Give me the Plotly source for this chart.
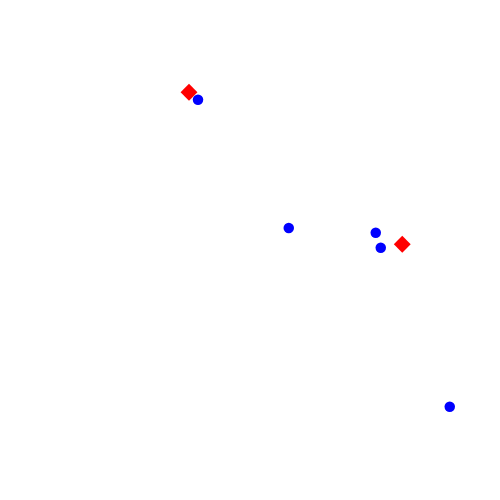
import plotly.graph_objects as go

blue_x = [39.6, 57.75, 75.15, 76.15, 89.95]
blue_y = [80.05, 54.4, 53.45, 50.45, 18.65]
red_x = [37.8, 80.45]
red_y = [81.55, 51.15]

fig = go.Figure()
fig.add_trace(go.Scatter(x=red_x, y=red_y, mode="markers",
                         marker=dict(symbol="diamond", size=13, color="#ff0000", line=dict(width=0))))
fig.add_trace(go.Scatter(x=blue_x, y=blue_y, mode="markers",
                         marker=dict(symbol="circle", size=10.5, color="#0000ff", line=dict(width=0))))
fig.update_layout(width=500, height=500, margin=dict(l=0, r=0, t=0, b=0),
                  paper_bgcolor="white", plot_bgcolor="white", showlegend=False)
fig.update_xaxes(range=[0, 100], visible=False)
fig.update_yaxes(range=[0, 100], visible=False)
fig.write_html("out.html")
